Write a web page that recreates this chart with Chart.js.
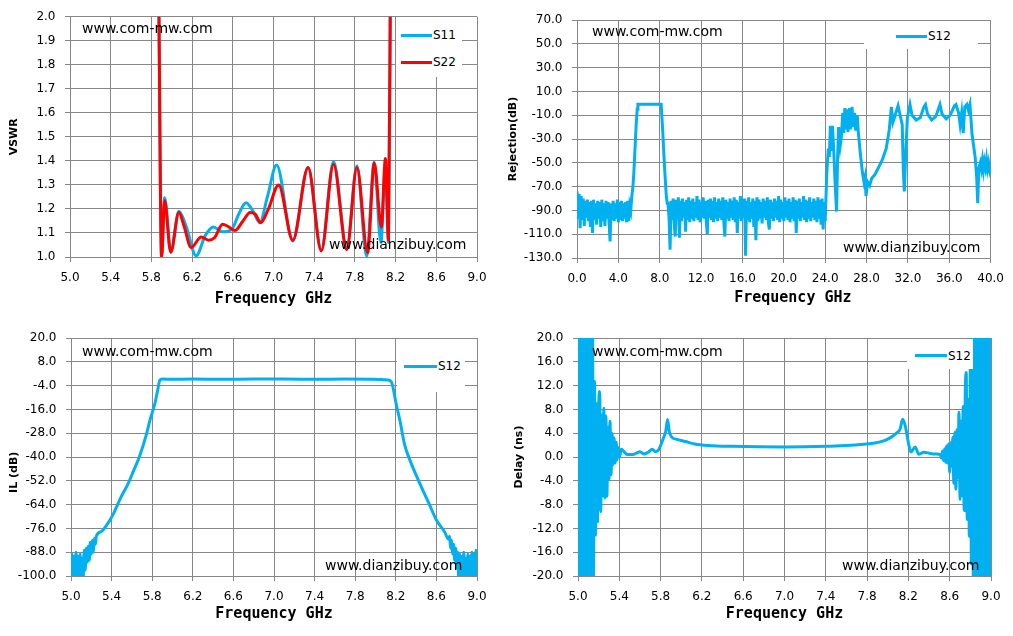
<!DOCTYPE html>
<html>
<head>
<meta charset="utf-8">
<title>Filter S-parameter charts</title>
<script src="https://cdn.jsdelivr.net/npm/chart.js@4.4.1/dist/chart.umd.min.js"></script>
<style>
  html, body { margin:0; padding:0; background:#fff; }
  body { width:1013px; height:636px; position:relative; overflow:hidden; font-family:"DejaVu Sans", sans-serif; }
  .panel { position:absolute; }
  .panel canvas { display:block; }
  .wm { position:absolute; font-size:14px; line-height:16px; color:#000; white-space:nowrap; }
  .lgbox { position:absolute; background:#fff; }
  .lgline { position:absolute; height:3px; }
  .lgtext { position:absolute; font-size:12px; line-height:14px; color:#000; white-space:nowrap; }
</style>
</head>
<body>
<div class="panel" style="left:0;top:0"><canvas id="cVswr" width="500" height="318" style="width:500px;height:318px"></canvas></div>
<div class="panel" style="left:500px;top:0"><canvas id="cRej" width="513" height="318" style="width:513px;height:318px"></canvas></div>
<div class="panel" style="left:0;top:318px"><canvas id="cIl" width="500" height="318" style="width:500px;height:318px"></canvas></div>
<div class="panel" style="left:500px;top:318px"><canvas id="cDelay" width="513" height="318" style="width:513px;height:318px"></canvas></div>

<!-- watermarks -->
<div class="wm" style="left:82px;top:20px">www.com-mw.com</div>
<div class="wm" style="left:329px;top:236px">www.dianzibuy.com</div>
<div class="wm" style="left:592px;top:23px">www.com-mw.com</div>
<div class="wm" style="left:843px;top:239px">www.dianzibuy.com</div>
<div class="wm" style="left:82px;top:343px">www.com-mw.com</div>
<div class="wm" style="left:325px;top:557px">www.dianzibuy.com</div>
<div class="wm" style="left:592px;top:343px">www.com-mw.com</div>
<div class="wm" style="left:842px;top:557px">www.dianzibuy.com</div>

<!-- legends -->
<div class="lgbox" style="left:396px;top:17px;width:66px;height:60px"></div>
<div class="lgline" style="left:401px;top:33.5px;width:31px;background:#00B0F0"></div>
<div class="lgtext" style="left:433px;top:28px">S11</div>
<div class="lgline" style="left:401px;top:60.8px;width:31px;background:#FF0000"></div>
<div class="lgtext" style="left:433px;top:55.3px">S22</div>

<div class="lgbox" style="left:864px;top:21px;width:114px;height:28px"></div>
<div class="lgline" style="left:896px;top:34.5px;width:31px;background:#00B0F0"></div>
<div class="lgtext" style="left:928px;top:29px">S12</div>

<div class="lgbox" style="left:397px;top:339px;width:68px;height:53px"></div>
<div class="lgline" style="left:404px;top:364.8px;width:33px;background:#00B0F0"></div>
<div class="lgtext" style="left:438px;top:359.3px">S12</div>

<div class="lgbox" style="left:907px;top:339px;width:66px;height:30px"></div>
<div class="lgline" style="left:915px;top:354.2px;width:32px;background:#00B0F0"></div>
<div class="lgtext" style="left:948px;top:348.7px">S12</div>

<script>
// ---------------- DATA ----------------
// axis ranges: [min, max, step]
const ghzAxis = [5.0, 9.0, 0.4];
const wideGhzAxis = [0.0, 40.0, 4.0];
const vswrAxis = [1.0, 2.0, 0.1];
const rejAxis = [-130, 70, 20];
const ilAxis = [-100, 20, 12];
const delayAxis = [-20, 20, 4];

// VSWR (GHz, VSWR)
const vswrS11 = [[5.87,2.2],[5.90,1.0],[5.93,1.247],[5.99,1.02],[6.07,1.19],[6.14,1.13],[6.24,1.005],
  [6.33,1.09],[6.41,1.125],[6.50,1.105],[6.59,1.115],[6.66,1.18],[6.73,1.226],[6.80,1.19],[6.865,1.143],
  [6.94,1.25],[7.03,1.383],[7.19,1.067],[7.34,1.372],[7.47,1.03],[7.59,1.397],[7.72,1.04],[7.82,1.38],
  [7.915,1.004],[7.99,1.395],[8.055,1.06],[8.10,1.38],[8.13,1.06],[8.15,2.2]];
const vswrS22 = [[5.87,2.2],[5.90,1.0],[5.93,1.235],[5.99,1.02],[6.07,1.185],[6.12,1.13],[6.19,1.04],
  [6.29,1.083],[6.36,1.07],[6.42,1.08],[6.50,1.136],[6.55,1.128],[6.62,1.11],[6.70,1.15],[6.77,1.185],
  [6.82,1.178],[6.875,1.143],[6.95,1.20],[7.05,1.30],[7.19,1.07],[7.34,1.372],[7.47,1.025],[7.59,1.386],
  [7.72,1.03],[7.82,1.372],[7.925,1.018],[7.99,1.39],[8.06,1.125],[8.10,1.41],[8.13,1.07],[8.15,2.2]];

// Rejection S12, 0-40 GHz (dB)
const rejLowStart = 0.0, rejLowStep = 0.1;           // 0.0 .. 5.2 GHz
const rejLow = [
  -74,-97,-76,-105,-78,-98,-80,-103,-82,-96,
  -81,-99,-83,-104,-82,-109,-81,-98,-84,-102,
  -82,-97,-83,-104,-81,-99,-84,-103,-82,-97,
  -83,-100,-116,-84,-98,-82,-99,-84,-97,-81,
  -100,-83,-98,-82,-99,-84,-97,-83,-100,-82,
  -99,-86,-90];
const rejPassband = [[5.3,-78],[5.41,-70],[5.5,-58],[5.57,-45],[5.65,-31],[5.73,-17],[5.82,-5],
  [5.89,-0.8],[6.5,-0.8],[7.3,-0.9],[8.14,-0.8],[8.3,-25],[8.46,-53],[8.63,-77],[8.72,-84]];
const rejMidStart = 8.8, rejMidStep = 0.1;           // 8.8 .. 24.0 GHz
const rejMid = [
  -84,-96,
  -123,-82,-98,-80,-101,-112,-81,-97,-79,-113,
  -82,-99,-80,-96,-83,-108,-81,-98,-79,-100,
  -82,-97,-80,-99,-83,-96,-78,-98,-81,-100,
  -83,-96,-79,-97,-82,-99,-110,-81,-96,-80,
  -98,-82,-100,-79,-97,-83,-99,-80,-96,-82,
  -98,-79,-100,-112,-81,-97,-83,-99,-80,-96,
  -82,-98,-79,-100,-81,-109,-83,-97,-78,-99,
  -81,-96,-80,-128,-82,-98,-79,-100,-83,-97,
  -80,-104,-82,-115,-79,-99,-81,-97,-83,-101,
  -80,-96,-82,-98,-79,-100,-106,-81,-97,-83,
  -99,-80,-96,-82,-98,-78,-100,-81,-97,-83,
  -99,-79,-96,-82,-98,-80,-100,-83,-97,-79,
  -99,-81,-109,-82,-97,-80,-99,-83,-96,-78,
  -98,-81,-100,-82,-97,-79,-99,-83,-96,-80,
  -98,-82,-100,-79,-97,-81,-102,-80,-106,-83,
  -99];
const rejSpur = [[24.05,-99],[24.15,-60],[24.3,-38],[24.4,-45],[24.5,-19],[24.6,-40],[24.7,-19],[24.8,-35],
  [24.95,-65],[25.1,-91],[25.2,-45],[25.3,-20],[25.45,-36],[25.55,-30],[25.7,-8],[25.8,-25],[25.9,-4],
  [26.0,-22],[26.1,-5],[26.2,-24],[26.35,-4],[26.45,-22],[26.6,-3],[26.7,-20],[26.85,-8],[26.95,-23],
  [27.1,-10],[27.2,-24],[27.4,-42],[27.6,-58],[27.75,-66],[27.85,-62],[27.95,-78],[28.1,-66],[28.3,-69],
  [28.5,-63],[28.8,-60],[29.1,-55],[29.5,-48],[29.9,-38],[30.2,-22],[30.4,-3],[30.55,-16],[30.7,-12],
  [30.9,-6],[31.05,-2],[31.25,-10],[31.45,-18],[31.55,-55],[31.65,-74],[31.8,-40],[31.95,-12],[32.2,-1],
  [32.4,-10],[32.8,-14],[33.2,-12],[33.55,-3],[33.7,-1],[33.9,-9],[34.3,-14],[34.7,-11],[35.1,-1],
  [35.3,-9],[35.7,-13],[36.1,-10],[36.5,-2],[36.65,-1],[36.9,-8],[37.05,-18],[37.2,-8],[37.35,-25],
  [37.5,-3],[37.7,-1],[37.85,-6],[38.0,-1],[38.2,-26],[38.5,-45],[38.65,-62],[38.75,-84],[38.85,-55],
  [39.0,-50],[39.1,-55],[39.2,-48],[39.3,-56],[39.4,-49],[39.5,-54],[39.6,-47],[39.7,-55],[39.8,-50],
  [39.9,-56],[40.0,-52]];

// Insertion loss S12 (dB)
const ilLowStart = 5.00, ilLowStep = 0.01;           // 5.00 .. 5.25 GHz
const ilLow = [-101,-89,-102,-90,-101,-88,-102,-90,-101,-89,
  -102,-91,-101,-87,-97,-86,-93,-85,-92,-83,
  -89,-82,-88,-81,-84,-80];
const ilBand = [[5.30,-77.5],[5.35,-74.5],[5.42,-68.4],[5.45,-65],[5.50,-59.5],[5.564,-53.3],[5.62,-46.5],
  [5.673,-40],[5.745,-28.2],[5.778,-21.4],[5.827,-13],[5.855,-6],[5.876,-1.2],[5.90,-0.7],[6.0,-0.8],
  [6.2,-0.7],[6.5,-0.8],[6.8,-0.7],[7.1,-0.7],[7.4,-0.8],[7.7,-0.7],[7.95,-0.8],[8.05,-0.9],[8.12,-1.2],
  [8.157,-2.2],[8.206,-13.9],[8.24,-21.5],[8.288,-34],[8.34,-41.7],[8.436,-53.3],[8.534,-64.3],
  [8.60,-71.8],[8.68,-77.7],[8.72,-81.5]];
const ilHighStart = 8.73, ilHighStep = 0.01;         // 8.73 .. 9.00 GHz
const ilHigh = [-80,-86,-82,-89,-84,-92,-86,-96,-88,-101,
  -89,-102,-90,-101,-88,-102,-91,-101,-89,-102,
  -90,-101,-88,-102,-89,-101,-87,-100];

// Group delay S12 (ns)
const delayLowStart = 5.00, delayLowStep = 0.01;     // 5.00 .. 5.40 GHz
const delayLow = [25,-25,25,-25,25,-25,25,-25,25,-25,25,-25,25,-25,25,
  -20,12.7,-13.1,9,-10.8,8,11,-9.2,7,-6.5,8.2,-6.9,6.9,-6.6,5,-3.8,6,-3,4,-1.3,3.2,-1,2.5,-0.5,1.6,0];
const delayBand = [[5.42,1.3],[5.45,0.8],[5.48,0.4],[5.52,0.4],[5.56,0.6],[5.60,0.9],[5.64,0.5],[5.68,0.8],
  [5.72,1.3],[5.75,0.9],[5.78,1.2],[5.80,1.9],[5.83,3.3],[5.85,4.3],[5.867,6.3],[5.885,4.2],[5.91,3.3],
  [5.95,3.0],[6.04,2.6],[6.13,2.2],[6.26,1.95],[6.5,1.8],[7.0,1.7],[7.4,1.8],[7.6,1.95],[7.74,2.1],
  [7.86,2.3],[7.96,2.7],[8.03,3.3],[8.09,4.1],[8.12,4.7],[8.144,6.35],[8.17,5.2],[8.2,2.4],[8.224,0.84],
  [8.266,1.7],[8.3,0.45],[8.35,0.8],[8.41,0.6],[8.47,0.5],[8.51,0.4]];
const delayHighStart = 8.52, delayHighStep = 0.01;   // 8.52 .. 9.00 GHz
const delayHigh = [-0.2,1.0,-0.6,1.4,-0.9,1.85,-1.0,2.2,-2.6,2.4,
  -1.5,3.3,-4.4,4.1,-5.4,4.6,-3.5,7.5,-7.1,6,
  -6.5,8.5,-9,10,14.2,-10.5,9.7,-13.3,16,-18,
  25,-25,25,-25,25,-25,25,-25,25,-25,25,-25,25,-25,25,-25,25,-25,25];

// ---------------- CHARTS ----------------
Chart.defaults.font.family = 'DejaVu Sans';
Chart.defaults.color = '#000';
const GRID = '#878787';
const CYAN = '#00B0F0';
const RED = '#FF0000';
const NB = '\u00A0';

function seq(start, step, vals) { return vals.map((v, i) => ({ x: +(start + i * step).toFixed(3), y: v })); }
function pts(pairs) { return pairs.map(p => ({ x: p[0], y: p[1] })); }

function xAxis(r, h, padB, text) {
  return {
    type: 'linear', min: r[0], max: r[1],
    ticks: { stepSize: r[2], callback: v => Number(v).toFixed(1), color: '#000',
      font: { family: 'DejaVu Sans', size: 12 }, padding: 9, maxRotation: 0, autoSkip: false },
    grid: { color: GRID, lineWidth: 1, drawTicks: true, tickLength: 5 },
    border: { display: true, color: GRID, width: 1 },
    title: { display: true, text: text, color: '#000',
      font: { family: 'DejaVu Sans Mono', size: 15, weight: 'bold' }, padding: { top: 0, bottom: padB } },
    afterFit: s => { s.height = h; }
  };
}
function yAxis(r, w, text, padT) {
  return {
    type: 'linear', min: r[0], max: r[1],
    ticks: { stepSize: r[2], callback: v => Number(v).toFixed(1), color: '#000',
      font: { family: 'DejaVu Sans', size: 12 }, padding: 9.5, autoSkip: false },
    grid: { color: GRID, lineWidth: 1, drawTicks: true, tickLength: 5 },
    border: { display: true, color: GRID, width: 1 },
    title: { display: true, text: text, color: '#000',
      font: { family: 'DejaVu Sans', size: 11, weight: 'bold' }, padding: { top: padT, bottom: 0 } },
    afterFit: s => { s.width = w; }
  };
}
function ds(label, data, color, smooth, order) {
  return { label, data, borderColor: color, backgroundColor: color, borderWidth: 3, pointRadius: 0,
    pointHoverRadius: 0, fill: false, clip: 0, order,
    cubicInterpolationMode: smooth ? 'monotone' : 'default', tension: 0 };
}
function build(id, datasets, xr, yr, L) {
  return new Chart(document.getElementById(id), {
    type: 'line',
    data: { datasets },
    options: {
      responsive: false, animation: false, devicePixelRatio: 1,
      layout: { padding: { top: L.top, right: L.right, left: 0, bottom: 0 } },
      plugins: { legend: { display: false }, tooltip: { enabled: false } },
      scales: { x: xAxis(xr, L.xh, L.xpad, L.xtitle), y: yAxis(yr, L.yw, L.ytitle, L.ypad) }
    }
  });
}

build('cVswr', [
  ds('S11', pts(vswrS11), CYAN, true, 2),
  ds('S22', pts(vswrS22), RED, true, 1)
], ghzAxis, vswrAxis, { top: 16, right: 23, xh: 61, xpad: 10, xtitle: 'Frequency GHz',
  yw: 70, ytitle: 'VSWR', ypad: 7.2 });

build('cRej', [
  ds('S12', [].concat(seq(rejLowStart, rejLowStep, rejLow), pts(rejPassband),
    seq(rejMidStart, rejMidStep, rejMid), pts(rejSpur)), CYAN, false, 1)
], wideGhzAxis, rejAxis, { top: 20, right: 22, xh: 60, xpad: 11.3, xtitle: NB + NB + 'Frequency GHz',
  yw: 77, ytitle: 'Rejection(dB)', ypad: 6.7 });

build('cIl', [
  ds('S12', [].concat(seq(ilLowStart, ilLowStep, ilLow), pts(ilBand), seq(ilHighStart, ilHighStep, ilHigh)), CYAN, true, 1)
], ghzAxis, ilAxis, { top: 20, right: 23, xh: 60, xpad: 12.7, xtitle: 'Frequency GHz',
  yw: 71, ytitle: 'IL (dB)' + NB.repeat(8), ypad: 7.4 });

build('cDelay', [
  ds('S12', [].concat(seq(delayLowStart, delayLowStep, delayLow), pts(delayBand),
    seq(delayHighStart, delayHighStep, delayHigh)), CYAN, true, 1)
], ghzAxis, delayAxis, { top: 20, right: 22, xh: 60, xpad: 12.7, xtitle: 'Frequency GHz',
  yw: 78, ytitle: 'Delay (ns)', ypad: 12.9 });
</script>
</body>
</html>
